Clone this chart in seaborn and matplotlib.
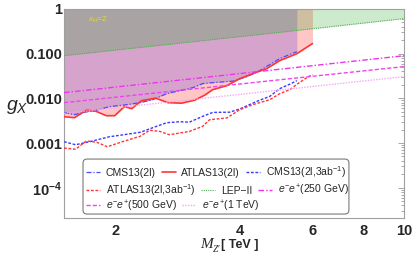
import numpy as np
import pandas as pd
import matplotlib
matplotlib.use("Agg")
import matplotlib.pyplot as plt
import matplotlib.patches as mpatches
from matplotlib.legend import Legend
import seaborn as sns

# ---------------- data ----------------
cms_M = [1.50, 1.59, 1.68, 1.80, 1.93, 2.13, 2.29, 2.46, 2.66, 2.86, 3.08, 3.25, 3.44, 3.85, 4.16, 4.47, 5.00, 5.50]
cms_g = [0.00478, 0.00431, 0.00490, 0.00544, 0.00651, 0.00722, 0.00801, 0.00935, 0.01274, 0.01488,
         0.01738, 0.02136, 0.02249, 0.02430, 0.03066, 0.04179, 0.07766, 0.1114]

atlas_M = [1.50, 1.59, 1.70, 1.79, 1.90, 1.99, 2.10, 2.19, 2.31, 2.50, 2.68, 2.89, 3.11, 3.29, 3.44,
           3.72, 4.00, 4.30, 4.65, 5.00, 5.50, 6.00]
atlas_g = [0.00389, 0.00369, 0.00544, 0.00516, 0.00409, 0.00409, 0.00651, 0.00588, 0.00888, 0.0101,
           0.00801, 0.00780, 0.00911, 0.0118, 0.01567, 0.01926, 0.02766, 0.0358, 0.0464, 0.0700, 0.100, 0.1684]

cms3_M = [1.50, 1.60, 1.73, 1.93, 2.13, 2.30, 2.46, 2.66, 2.86, 3.02, 3.25, 3.44, 3.78, 4.00, 4.40,
          4.73, 5.00, 5.29, 5.50]
cms3_g = [0.00107, 0.000916, 0.00107, 0.00138, 0.00157, 0.00175, 0.00220, 0.00285, 0.00300, 0.00293,
          0.00395, 0.00485, 0.00490, 0.00579, 0.00857, 0.0111, 0.0165, 0.0208, 0.0249]

atlas3_M = [1.50, 1.60, 1.70, 1.80, 1.91, 2.07, 2.18, 2.29, 2.42, 2.56, 2.70, 2.86, 3.02, 3.25, 3.38,
            3.72, 4.00, 4.30, 4.73, 5.00, 5.29, 5.53, 5.85, 6.00]
atlas3_g = [0.000773, 0.000726, 0.001114, 0.001043, 0.000826, 0.001059, 0.00123, 0.001406, 0.001936,
            0.00182, 0.001535, 0.001675, 0.00182, 0.002356, 0.003327, 0.00364, 0.00558, 0.00722,
            0.00935, 0.01274, 0.01567, 0.02136, 0.0302, 0.0340]

lep_M = [1.5, 5.0, 10.0]
lep_g = [0.090, 0.300, 0.610]

ee250_M = [1.5, 10.0]
ee250_g = [0.0134, 0.090]
ee500_M = [1.5, 10.0]
ee500_g = [0.0080, 0.0514]
ee1000_M = [1.5, 10.0]
ee1000_g = [0.0046, 0.0307]

labels = ["CMS13(2l)", "ATLAS13(2l)", r"CMS13(2l,3ab$^{-1}$)", r"ATLAS13(2l,3ab$^{-1}$)",
          "LEP\u2212II", r"$e^{-}e^{+}$(250 GeV)", r"$e^{-}e^{+}$(500 GeV)", r"$e^{-}e^{+}$(1 TeV)"]

xticks = [2, 4, 6, 8, 10]
yticks = [1e-4, 1e-3, 1e-2, 1e-1, 1]
ytick_labels = [r"$\mathbf{10^{-4}}$", "0.001", "0.010", "0.100", "1"]

# ---------------- style ----------------
sns.set_theme(style="white")
plt.rcParams["font.family"] = ["Liberation Sans", "DejaVu Sans"]
plt.rcParams["mathtext.fontset"] = "custom"
plt.rcParams["mathtext.rm"] = "Liberation Sans"
plt.rcParams["mathtext.it"] = "Liberation Sans:italic"
plt.rcParams["mathtext.bf"] = "Liberation Sans:bold"

fig = plt.figure(figsize=(4.13, 2.61), dpi=100)
ax = fig.add_axes([64 / 413, 1 - 218 / 261, 340 / 413, 209 / 261])
ax.set_xscale("log")
ax.set_yscale("log")
XMIN, XMAX, YMIN, YMAX = 1.5, 10.0, 2.1e-5, 1.0


def loginterp(xg, xs, ys):
    return 10 ** np.interp(np.log10(xg), np.log10(xs), np.log10(ys))


# ---------------- filled regions ----------------
g_all = np.geomspace(min(lep_M), max(lep_M), 200)
ax.fill_between(g_all, loginterp(g_all, lep_M, lep_g), YMAX, color="#cdeacd", lw=0, zorder=1)

g_at = np.geomspace(min(atlas_M), max(atlas_M), 300)
ax.fill_between(g_at, loginterp(g_at, atlas_M, atlas_g), loginterp(g_at, lep_M, lep_g),
                color="#ffc6c6", lw=0, zorder=1.1)
ax.fill_between(g_at, loginterp(g_at, lep_M, lep_g), YMAX, color="#cdbf9f", lw=0, zorder=1.1)

g_cm = np.geomspace(min(cms_M), max(cms_M), 300)
ax.fill_between(g_cm, loginterp(g_cm, cms_M, cms_g), loginterp(g_cm, lep_M, lep_g),
                color="#d6a3cd", lw=0, zorder=1.2)
ax.fill_between(g_cm, loginterp(g_cm, lep_M, lep_g), YMAX, color="#aaa3a3", lw=0, zorder=1.2)

# ---------------- curves ----------------
dashdot = (0, (4, 1.5, 1, 1.5))
series = [
    (cms_M, cms_g, labels[0], "#4a4aff", dashdot, 0.9),
    (atlas_M, atlas_g, labels[1], "#ff3535", "-", 1.2),
    (cms3_M, cms3_g, labels[2], "#3a3aff", (0, (2, 1.2)), 1.0),
    (atlas3_M, atlas3_g, labels[3], "#ff3535", (0, (2, 1.2)), 1.0),
    (lep_M, lep_g, labels[4], "#55b055", (0, (1, 1)), 0.8),
    (ee250_M, ee250_g, labels[5], "#ee33ee", dashdot, 1.0),
    (ee500_M, ee500_g, labels[6], "#ee44ee", (0, (3, 1.5)), 1.0),
    (ee1000_M, ee1000_g, labels[7], "#f4a8f4", (0, (1, 1)), 1.0),
]
for xs, ys, lab, col, ls, lw in series:
    df = pd.DataFrame({"M": xs, "g": ys})
    sns.lineplot(data=df, x="M", y="g", ax=ax, color=col, linestyle=ls, lw=lw,
                 label=lab, sort=False, estimator=None, zorder=3)

ax.set_xlim(XMIN, XMAX)
ax.set_ylim(YMIN, YMAX)

# ---------------- ticks / frame ----------------
ax.set_xticks(xticks)
ax.set_xticklabels([str(t) for t in xticks], fontweight="bold", fontsize=10.5)
ax.set_xticks([2.5, 3, 3.5, 4.5, 5, 5.5, 6.5, 7, 7.5, 8.5, 9, 9.5], minor=True)
ax.xaxis.set_minor_formatter(matplotlib.ticker.NullFormatter())
ax.set_yticks(yticks)
ax.set_yticklabels(ytick_labels, fontweight="bold", fontsize=10.5)
ax.yaxis.set_minor_locator(matplotlib.ticker.LogLocator(base=10, subs=np.arange(2, 10)))
ax.yaxis.set_minor_formatter(matplotlib.ticker.NullFormatter())
ax.tick_params(which="both", direction="in", top=True, right=True, color="#999999", width=0.6)
ax.tick_params(which="major", length=4)
ax.tick_params(which="minor", length=2)
ax.tick_params(axis="x", which="major", pad=4)
ax.tick_params(axis="y", which="major", pad=1.5)
for sp in ax.spines.values():
    sp.set_color("#a0a0a0")
    sp.set_linewidth(0.8)
ax.set_xlabel("")
ax.set_ylabel("")

# ---------------- labels ----------------
fig.text(17 / 413, 1 - 107 / 261, r"$g_X$", fontsize=14, ha="center", va="center")
fig.text(207 / 413, 1 - 245 / 261, "M", family="Liberation Serif", style="italic",
         fontsize=11, ha="center", va="center")
fig.text(217 / 413, 1 - 249 / 261, "Z\u2032", family="Liberation Serif", style="italic",
         fontsize=7, ha="center", va="center")
fig.text(240 / 413, 1 - 245 / 261, "[ TeV ]", fontweight="bold", fontsize=9,
         ha="center", va="center")
ax.text(0.07, 0.947, r"$x_H$=2", transform=ax.transAxes, color="#e0e020", fontsize=6,
        ha="left", va="center", zorder=4)

# ---------------- legend (rows laid out independently, one shared frame) ----------------
handles, labs = ax.get_legend_handles_labels()
if ax.get_legend() is not None:
    ax.get_legend().remove()

frame = mpatches.FancyBboxPatch((0.0559, 0.019), 0.838 - 0.0559, 0.282 - 0.019,
                                boxstyle="round,pad=0,rounding_size=0.012",
                                mutation_aspect=340 / 209,
                                transform=ax.transAxes, facecolor="white",
                                edgecolor="#7a7a7a", lw=0.8, zorder=5)
ax.add_patch(frame)

rows = [[0, 1, 2], [3, 4, 5], [6, 7]]
row_y = [0.220, 0.134, 0.058]
for idx, yy in zip(rows, row_y):
    lg = Legend(ax, [handles[i] for i in idx], [labs[i] for i in idx], ncol=len(idx),
                loc="center left", bbox_to_anchor=(0.0647, yy), bbox_transform=ax.transAxes,
                borderaxespad=0, borderpad=0, fontsize=7.5, handlelength=1.35,
                handletextpad=0.55, columnspacing=0.55, frameon=False)
    lg.set_zorder(6)
    ax.add_artist(lg)

fig.savefig("out.png", dpi=100)
